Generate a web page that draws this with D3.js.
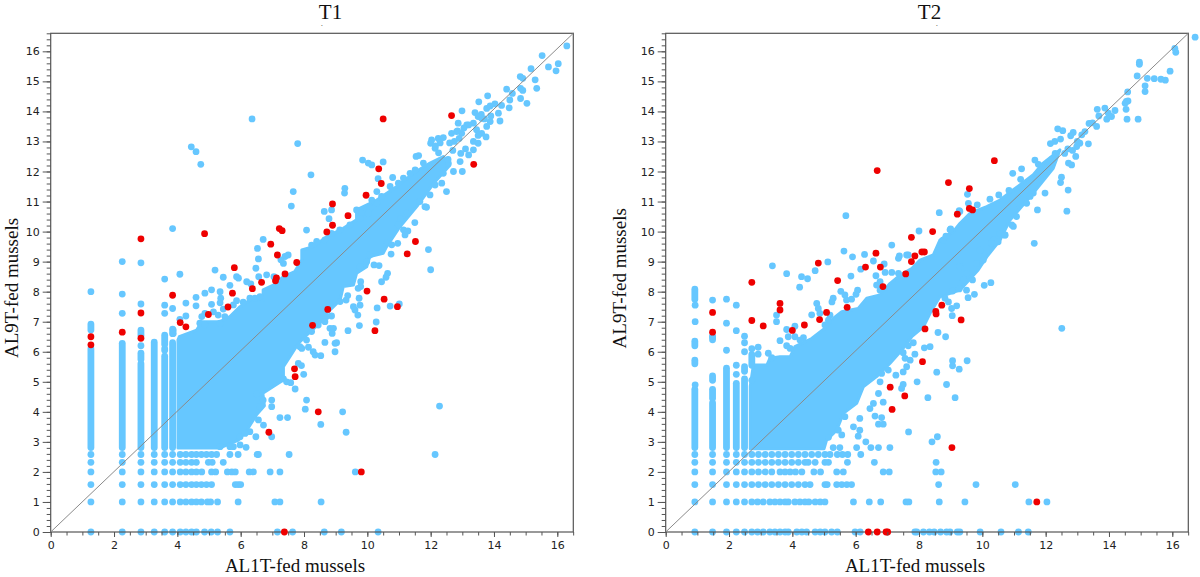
<!DOCTYPE html>
<html><head><meta charset="utf-8">
<script src="https://cdn.jsdelivr.net/npm/d3@7/dist/d3.min.js"></script>
<style>html,body{margin:0;padding:0;background:#fff}svg{display:block}</style>
</head><body><svg id="c" width="1200" height="577"></svg>
<script>
// ---- shared labels and ticks
const panelTitles = ["T1", "T2"];
const xAxisLabel = "AL1T-fed mussels";
const yAxisLabel = "AL9T-fed mussels";
const xTickLabels = [0, 2, 4, 6, 8, 10, 12, 14, 16];
const yTickLabels = [0, 1, 2, 3, 4, 5, 6, 7, 8, 9, 10, 11, 12, 13, 14, 15, 16];

// ---- T1: dense cloud outline [x, y]
const t1Cloud = [[4.02,2.8],[5.35,2.8],[5.93,3.06],[6.2,3.4],[6.5,3.9],[6.75,4.2],[6.7,4.62],[7.03,4.84],[7.35,5.06],[7.35,5.5],[7.56,5.84],[7.82,6.28],[8.14,6.61],[8.5,6.95],[8.72,7.28],[9.14,7.72],[9.24,8.17],[9.56,8.22],[9.66,8.61],[9.98,8.83],[10.08,9.17],[10.5,9.28],[10.61,9.5],[11.03,10.16],[11.56,10.83],[12.09,11.6],[12.6,12.2],[12.4,12.5],[11.98,12.28],[11.45,11.94],[10.93,11.5],[10.3,11.05],[9.66,10.72],[9.66,10.39],[9.24,10.11],[8.72,9.83],[8.29,9.5],[7.93,9.39],[7.93,9.06],[7.71,8.67],[7.35,8.5],[7.03,8.22],[6.71,8.06],[6.71,7.72],[6.29,7.72],[5.98,7.5],[5.66,7.17],[5.35,7.0],[4.77,7.0],[4.61,6.72],[4.06,6.5],[4.02,6.4]];
// ---- T1: solid runs of stacked points in the low count columns [x, yFrom, yTo]
const t1Columns = [[1.27,2.81,6.1],[1.27,6.72,6.92],[2.26,2.81,6.28],[2.85,2.81,5.6],[2.85,5.75,5.95],[2.85,6.55,6.72],[3.27,2.81,6.32],[3.6,2.81,5.85],[3.6,6.05,6.1],[3.6,6.25,6.55],[3.85,2.81,6.3],[3.85,6.6,6.75]];
// ---- T1: discrete count rows
const t1RowValues = [2.58, 2.32, 2, 1.58, 1, 0];
const t1RowX = [
 [1.27,2.26,2.85,3.27,3.6,3.85,4.09,4.27,4.45,4.6,4.76,4.92,5.08,5.24,5.66,5.92,6.52,7.53],
 [1.27,2.26,2.85,3.27,3.6,3.85,4.09,4.27,4.45,4.6,4.98,5.1,5.45],
 [1.27,2.26,2.85,3.27,3.6,3.85,4.09,4.27,4.45,4.6,4.77,5.08,5.21,5.58,5.72,5.83,6.27,6.4,6.93,7.24],
 [1.27,2.26,2.85,3.27,3.6,3.85,4.09,4.27,4.45,4.6,4.76,4.92,5.08,5.83,5.92,6.0],
 [1.27,2.26,2.85,3.27,3.6,3.85,4.09,4.27,4.45,4.6,4.76,4.95,5.05,5.27,5.92,7.08,7.24,8.54],
 [1.27,2.26,2.85,3.27,3.6,3.85,4.09,4.27,4.45,4.6,4.86,5.07,5.27,5.66,7.16,7.64,8.64,9.18,10.34]
];
// ---- T1: scattered points
const t1Blue = [[1.27,8],[2.26,7.92],[2.26,7.28],[2.85,7.59],[2.85,6.2],[3.6,7.55],[3.6,7.28],[3.85,7.44],[4.27,7.62],[4.27,7.19],[4.08,7.08],[4.59,7.81],[4.59,7.53],[4.87,7.95],[5.08,7.58],[4.77,7.17],[4.87,7.28],[4.71,6.95],[4.87,6.89],[5.37,7.78],[5.35,7.63],[5.45,7.42],[5.14,7.33],[5.29,7.22],[5.5,7.17],[5.35,6.95],[5.08,8.06],[5.35,8],[5.77,7.56],[5.87,7.7],[6.08,7.65],[6.29,7.78],[6.45,7.78],[6.61,7.83],[3.87,6.72],[3.87,6.61],
[6.36,13.75],[4.44,12.82],[4.59,12.66],[4.74,12.24],[7.8,12.93],[8.22,11.89],[7.66,11.33],[7.6,10.85],[8.64,10.67],[8.87,10.72],[8.79,10.43],[8.08,10.05],[3.85,10.1],[2.26,9],[2.85,8.96],[3.6,8.42],[4.08,8.58],[5.19,8.72],[5.45,8.48],[5.66,8.21],[5.87,8.5],[5.93,8.45],[6.19,8.33],[6.32,8.26],[6.48,8.78],[6.56,9.09],[6.53,9.44],[6.71,9.74],[6.57,8.5],[6.82,8.56],[7.05,8.5],[7.35,8.94],[7.4,9.17],[7.5,9.22],[7.27,9.06],[8.24,9.55],[8.4,9.67],[8.66,9.72],[8.87,9.94],[9.13,10.06],[9.45,10.22],[9.29,11.44],[9.28,11.28],[9.85,12.38],[10.03,12.28],[10.14,12.22],[10.5,12.32],[10.34,11.76],[9.66,10.72],[9.82,10.61],[10.08,10.78],[10.03,10.61],[9.77,10.44],[10.3,10.94],
[10.14,11.05],[10.3,11.33],[10.45,11.17],[10.72,11.5],[10.8,11.8],[10.98,11.61],[11.14,11.78],[11.35,11.94],[11.54,12.5],[11.62,12.53],[11.51,12.05],[11.77,12.28],[12,12.94],[12.03,13.05],[12.24,13.1],[12.4,13.13],[12.14,12.77],[12.66,13.27],[12.82,13.33],[12.98,13.27],[12.87,13.61],[13.14,13.55],[13.35,13.61],[13.4,13.96],[13.5,13.83],[13.61,13.77],[13.77,14.1],[13.88,14.18],[14.03,14.25],[13.88,13.66],[13.77,13.5],[13.45,13.39],[13.61,13.27],[12.93,12.33],[12.72,12],[13.5,12.94],[13.35,12.72],[12.56,12.27],[12.4,11.94],[12.35,11.61],[12.14,11.55],[11.98,11.22],[11.66,11],[11.82,10.83],[11.87,10.81],[12.5,11.33],[13,12],[11.26,10.61],[11.05,10.42],[11.5,10.3],[10.98,10.22],[11.14,10.06],[11.28,10.02],[11.19,9.89],[10.63,9.64],[10.77,9.56],[10.96,9.61],[11.93,9.4],[10.75,9.25],[10.21,8.89],[10.37,8.87],[12,8.73],[10.64,8.61],[10.59,8.48],[10.45,8.33],
[16.3,16.18],[15.52,15.86],[15.17,15.42],[14.83,15.16],[14.91,15.1],[15.3,15.05],[16.03,15.59],[15.72,15.48],[15.96,15.35],[15.35,14.77],[14.4,14.74],[14.91,14.7],[14.84,14.77],[14.58,14.6],[14.5,14.38],[14.84,14.43],[15.04,14.27],[14.48,14.12],[13.8,14.52],[13.52,14.32],[12.99,14.02],[14.19,13.68],[14.14,13.94],[14.24,14.2],[13.6,13.9],[13.7,13.75],[13.9,13.85],[13.2,13.55],[13.05,13.45],[12.85,13.35],[12.9,13.1],[12.75,13],[13.5,13.2],[13.75,13.15],[13.35,13],[13.1,12.75],[12.95,12.6],[13.2,12.55],[12.7,12.7],[12.15,12.85],[12.3,12.95],[12.6,12.95],[12.25,12.62],[12.55,12.4],
[9.77,8.83],[9.79,8.33],[9.79,8.17],[9.71,8.11],[9.74,7.78],[9.38,7.87],[9.33,7.72],[9.14,7.67],[9.77,7.55],[9.56,7.5],[9.61,7.39],[9.7,7.22],[8.87,7.19],[8.71,7.17],[8.66,7],[8.45,6.89],[8.24,6.67],[8.08,6.39],[7.93,6.11],[7.87,6.17],[8.14,6.15],[8.29,6],[8.35,5.89],[8.53,5.87],[8.66,6.31],[8.98,6.28],[9.03,6.3],[8.98,6],[8.82,6.78],[8.93,6.78],[8.89,6.61],[9.39,6.7],[9.75,6.87],[10.28,6.99],[10.31,7.46],[10.72,7.52],[11.01,7.59],[10.08,9.22],[9.98,9],
[7.99,5.25],[7.92,5.54],[7.82,5.61],[7.58,4.97],[7.72,4.76],[7.35,5.1],[7.45,5.0],[6.98,4.39],[6.98,4.17],[8.08,4.39],[8.04,4.09],[9.22,4],[8.53,3.58],[9.33,3.32],[7.24,3.81],[7.48,3.81],[6.56,3.73],[6.72,3.56],[6.98,3.17],[6.29,3.34],[6.48,3.17],[5.98,3.17],[6.14,3.28],[6.5,4.6],[6.71,4.39],[6.61,4.17],[6.17,2.82],[5.98,2.9],[5.77,2.84],[5.66,2.84],[5.35,2.84],[6.56,2.58],[12.28,4.19],[12.14,2.58],[9.62,2]];
const t1Red = [[2.85,9.76],[4.86,9.93],[7.22,10.1],[7.31,10.03],[6.95,9.58],[7.16,9.22],[7.77,8.97],[8.72,9.99],[5.8,8.8],[7.4,8.59],[6.66,8.31],[7.13,8.46],[7.1,8.36],[6.37,8.1],[1.27,6.5],[1.27,6.23],[2.26,6.65],[2.85,7.29],[2.85,6.45],[3.85,7.88],[5.74,7.95],[5.6,7.49],[4.98,7.24],[4.09,6.97],[4.27,6.83],[8.27,6.88],[8.75,7.41],[7.7,5.43],[7.72,5.17],[8.45,4],[6.89,3.32],[7.38,0],[10.5,13.75],[12.66,13.86],[13.36,12.24],[10.36,12.09],[10.44,11.6],[9.96,11.21],[8.9,10.92],[9.39,10.53],[8.9,10.21],[11.52,9.67],[11.26,9.26],[9.99,8.02],[10.53,7.75],[10.95,7.5],[10.24,6.7],[9.81,2]];

// ---- T2: dense cloud outline [x, y]
const t2Cloud = [[2.67,2.77],[5.0,2.77],[5.08,3.06],[5.4,3.39],[5.61,3.95],[6.03,4.28],[6.24,4.83],[6.66,5.17],[7.08,5.61],[7.45,6.05],[7.77,6.5],[8.14,6.83],[8.35,7.28],[8.66,7.83],[9.29,8.05],[9.87,8.72],[10.14,9.16],[10.56,9.72],[10.87,10.38],[11.61,11.28],[12.24,12.11],[12.45,12.72],[11.92,12.28],[11.61,11.89],[10.98,11.39],[10.56,11.05],[10.14,10.83],[9.61,10.61],[9.29,10.27],[9.08,10],[8.66,9.72],[8.45,9.22],[8.03,9.05],[7.77,8.77],[7.4,8.55],[7.08,8.27],[6.77,7.89],[6.35,7.78],[6.08,7.44],[5.56,7.33],[5.29,7.11],[5.03,6.78],[4.61,6.44],[4.08,6.17],[3.93,5.83],[3.61,5.83],[3.29,5.78],[3.2,5.56],[2.77,5.56],[2.67,4.85]];
// ---- T2: solid runs of stacked points in the low count columns [x, yFrom, yTo]
const t2Columns = [[0.92,2.81,4.75],[0.92,5.6,5.72],[0.92,6.2,6.35],[0.92,7.75,8.08],[1.48,2.81,4.3],[1.48,4.45,4.75],[1.48,5.05,5.2],[1.48,6.4,6.5],[1.92,2.81,5.45],[2.23,2.81,4.95],[2.49,2.81,5.1],[2.49,5.35,5.5],[2.72,5.55,5.9]];
// ---- T2: discrete count rows
const t2RowValues = [2.58, 2.32, 2, 1.58, 1, 0];
const t2RowX = [
 [0.92,1.48,1.92,2.23,2.49,2.72,2.93,3.14,3.35,3.56,3.77,3.98,4.19,4.4,4.61,4.82,5.03,5.19,5.42,5.58,5.75,6.16],
 [0.92,1.48,1.92,2.23,2.49,2.72,2.93,3.14,3.35,3.56,3.77,3.98,4.19,4.4,4.5,4.72,5.03,5.14,5.74,6.59],
 [0.92,1.48,1.92,2.23,2.49,2.72,2.93,3.14,3.35,3.61,3.77,3.93,4.1,4.3,4.68,4.89,5.4,5.61,6.87,7.06],
 [0.92,1.48,1.92,2.23,2.49,2.72,2.93,3.14,3.35,3.56,3.77,3.98,4.19,4.4,4.56,5.03,5.1,5.4,5.56,5.72,5.87],
 [0.92,1.48,1.92,2.23,2.49,2.72,2.9,3.08,3.29,3.45,3.61,3.77,3.87,4.08,4.24,4.4,4.52,4.72,4.88,5.03,5.93,6.43,6.79,7.59,7.68,8.64,9.45,11.47,12.04],
 [0.92,1.48,1.92,2.23,2.49,2.72,2.9,3.08,3.29,3.45,3.61,3.77,3.87,4.14,4.3,4.45,4.72,4.88,5.03,5.24,5.42,5.98,6.14,7.87,7.93,8.14,8.33,8.48,8.68,8.87,8.98,9.21,9.29,9.93,10.59,11.14,11.45]
];
// ---- T2: scattered points
const t2Blue = [[0.93,4.9],[0.93,7],[0.93,7.55],[1.48,7.72],[1.48,6.5],[1.92,6.05],[1.92,6.95],[1.92,7.75],[2.23,5.25],[2.23,5.55],[2.23,6.7],[2.23,7.55],[2.49,6],[2.49,6.3],[2.49,6.52],[2.72,5.05],[2.72,6.1],[2.92,6.15],[2.92,5.92],[3.24,5.95],[3.35,5.8],
[5.69,10.53],[8,10.02],[8.64,10.63],[9,10.09],[9.27,10.7],[9.84,10.89],[9.53,11.24],[7.14,9.55],[7.66,9.22],[7.35,9.11],[7.38,9.19],[7.61,9.22],[5.63,9.35],[5.9,9.16],[6.28,9.24],[6.56,9.02],[5.12,8.99],[6.16,8.75],[6.9,8.92],[4.72,8.7],[3.82,8.6],[3.37,8.86],[4.29,8.5],[4.48,8.43],[4.23,8.15],[5.85,8.52],[6.64,8.53],[6.93,8.64],[7.14,8.64],[7.35,8.61],[6.77,8.33],[5.53,8.01],[6.06,8.05],[6.01,7.91],[5.66,7.89],[5.87,7.75],[5.71,7.72],[5.29,7.78],[5.25,7.66],[4.77,7.61],[4.82,7.44],[4.87,7.28],[4.61,7.23],[5.19,7.22],[5.14,7.05],[5.03,6.89],[3.5,7.22],[3.5,7],[3.82,6.74],[4.08,6.85],[3.87,6.5],[3.61,6.37],[3.82,6.2],[3.93,6.11],[4.35,6.47],[4.24,6.39],[4.08,6.5],[6.66,8.22],[6.77,8.05],[8.77,9.72],[8.98,10.06],[8.85,9.85],[9.29,10.67],[9.56,10.94],
[16.72,16.47],[16.08,16.1],[16.11,15.97],[14.96,15.64],[14.96,15.57],[15.93,15.34],[14.89,15.18],[15.21,15.1],[15.43,15.09],[15.64,15.07],[15.78,15.04],[15.14,14.85],[15.14,14.66],[14.59,14.65],[14.55,14.33],[14.6,14.35],[14.51,14.27],[14.54,14.07],[13.63,14.07],[13.87,14.11],[14.19,14.03],[13.68,13.85],[13.98,13.94],[14.08,13.83],[13.93,13.74],[14.57,13.74],[14.92,13.74],[13.37,13.6],[13.48,13.62],[13.61,13.5],[12.38,13.42],[12.54,13.36],[12.87,13.3],[12.79,13.19],[13.14,13.22],[13.24,13.33],[12.47,13.08],[12.29,13],[12.15,12.93],[13.08,12.94],[13.35,12.92],[12.98,12.83],[11.66,12.38],[11.77,12.24],[11.24,12.09],[10.96,11.94],[12.95,12.5],[12.72,12.28],[12.82,12.22],[12.5,11.81],[12.47,11.63],[12.71,11.38],[12.67,10.68],[11.98,11.28],[11.74,10.72],[11.64,9.61],[11.21,11.74],[10.24,11.08],[10.52,11.22],[10.84,11.37],[12.7,12.75],[12.6,12.6],[12.85,12.7],[12.3,12.6],[12.2,12.4],[13,13],
[10.98,10.17],[10.56,9.94],[10.35,9.72],[10.72,9.89],[11.61,11.28],[11.51,11.17],[11.4,10.94],[10.98,10.83],[11.08,10.5],[10.93,10.22],[9.51,8.61],[9.29,8.83],[10.71,9.88],[10.5,9.66],[10.29,9.61],[10.03,9.05],[9.82,8.94],[9.93,9.38],[10.27,8.3],[10.06,8.21],[9.69,8.39],[9.4,8.39],[9.5,8.05],[9.75,7.91],[9.55,7.8],[9.27,8.09],[9.06,8.02],[8.82,7.78],[8.93,7.66],[9.03,7.44],[9.19,7.53],[9.05,7.2],[8.84,6.5],[8.6,6.64],[8.35,6.17],[8.17,6.13],[7.82,6.3],[7.66,6.2],[7.87,5.92],[7.5,5.97],[7.72,5.72],[7.56,5.78],[7.61,5.5],[7.5,5.33],[7.27,5.22],[7.03,5.39],[6.82,5.28],[6.77,5],[7.94,5],[7.5,4.91],[7.45,4.78],[8.56,5.32],[9.06,5.7],[9.06,5.53],[9.27,5.42],[9.52,5.7],[8.87,4.91],[9.14,4.47],[8.28,4.47],[7.67,3.33],[8.58,3.17],[8.41,3],[6.87,4.32],[6.61,3.86],[6.82,3.81],[6.72,3.59],[6.87,3.59],[6.45,4.11],[6.56,4.28],[6.72,4.61],[6.13,3.78],[6.13,3.39],[5.93,3.5],[5.66,3.84],[5.45,3.39],[5.56,3.23],[5.14,3.15],[6.08,3.19],
[8.54,2.32],[8.53,2],[8.7,2],[8.62,1.58],[9.8,1.58],[11.04,1.58],[12.51,6.78],[5.29,2.81],[5.5,2.81],[6.03,2.81],[6.32,3],[6.48,2.81],[6.72,2.81],[7.08,2.81]];
const t2Red = [[6.68,12.03],[7.76,9.81],[6.64,9.28],[4.82,8.95],[7.87,9.19],[8.09,9.32],[8.17,9.32],[7.76,9],[6.31,8.82],[6.78,8.82],[7.58,8.59],[5.43,8.37],[2.72,8.31],[6.86,8.17],[1.48,7.31],[1.48,6.65],[2.72,7.04],[3.08,6.86],[3.61,7.61],[3.61,7.39],[4,6.71],[4.38,6.89],[4.86,7.07],[5.08,7.31],[5.73,7.48],[8.19,6.76],[8.11,5.67],[7.09,4.82],[7.55,4.53],[7.15,4.08],[6.4,0],[6.68,0],[6.96,0],[7.01,0],[10.38,12.36],[8.93,11.63],[9.59,11.43],[9.59,10.77],[9.69,10.72],[9.21,10.58],[8.43,10],[8.72,7.55],[8.53,7.34],[8.54,7.26],[9.33,7.06],[9.04,2.81],[11.72,1]];

// ---- drawing
const svg = d3.select("#c");
const BLUE = "#66c7ff", RED = "#ee0000", AXIS = "#555", R = 3.4;
const W = 522.6, H = 498.7;
const x = d3.scaleLinear().domain([0, 16.505]).range([0, W]);
const y = d3.scaleLinear().domain([0, 16.6]).range([H, 0]);

function panel(left, layout, title, cloud, cols, rowY, rowX, blue, red) {
  const g = svg.append("g").attr("transform", `translate(${left},33.3)`);
  g.append("path").attr("d", d3.line().x(d => x(d[0])).y(d => y(d[1])).curve(d3.curveLinearClosed)(cloud))
    .attr("fill", BLUE).attr("stroke", BLUE).attr("stroke-width", 3).attr("stroke-linejoin", "round");
  g.selectAll(".col").data(cols).join("line")
    .attr("x1", d => x(d[0])).attr("x2", d => x(d[0]))
    .attr("y1", d => y(d[1])).attr("y2", d => y(d[2]))
    .attr("stroke", BLUE).attr("stroke-width", 2 * R).attr("stroke-linecap", "round");
  const rows = rowY.flatMap((v, i) => rowX[i].map(px => [px, v]));
  g.selectAll(".b").data(rows.concat(blue)).join("circle")
    .attr("cx", d => x(d[0])).attr("cy", d => y(d[1])).attr("r", R).attr("fill", BLUE);
  g.append("rect").attr("width", W).attr("height", H).attr("fill", "none").attr("stroke", AXIS).attr("stroke-width", 1.2);
  g.append("line").attr("x1", x(0)).attr("y1", y(0)).attr("x2", x(16.505)).attr("y2", y(16.6))
    .attr("stroke", "#8a8a8a").attr("stroke-width", 1);
  g.selectAll(".r").data(red).join("circle")
    .attr("cx", d => x(d[0])).attr("cy", d => y(d[1])).attr("r", R).attr("fill", RED);

  g.append("g").attr("transform", `translate(0,${H})`)
    .call(d3.axisBottom(x).tickValues(d3.range(0, 16.51, 0.5)).tickSize(3.5).tickFormat(""));
  g.append("g").attr("transform", `translate(0,${H})`)
    .call(d3.axisBottom(x).tickValues(xTickLabels).tickSize(5).tickPadding(4).tickFormat(d3.format("d")));
  g.append("g").call(d3.axisLeft(y).tickValues(d3.range(0, 16.61, 0.2)).tickSize(4).tickFormat(""));
  g.append("g").call(d3.axisLeft(y).tickValues(yTickLabels).tickSize(8).tickPadding(3).tickFormat(d3.format("d")));
  g.selectAll(".domain").remove();
  g.selectAll(".tick line").attr("stroke", AXIS).attr("stroke-width", 1);
  g.selectAll(".tick text").attr("fill", "#222").style("font", "11px 'DejaVu Sans'").style("font-weight", "500");

  const serif = "'Liberation Serif'";
  g.append("text").attr("x", layout.titleX).attr("y", -14.8).attr("text-anchor", "middle")
    .style("font-family", serif).style("font-size", "21px").attr("fill", "#111").text(title);
  g.append("text").attr("x", 271.3).attr("y", -7).attr("text-anchor", "middle")
    .style("font-family", serif).style("font-size", "9px").attr("fill", "#444").text(".");
  g.append("text").attr("x", layout.xLabelX).attr("y", 539).attr("text-anchor", "middle")
    .style("font-family", serif).style("font-size", "19px").attr("fill", "#111").text(xAxisLabel);
  g.append("text").attr("transform", `translate(${layout.yLabelX},${layout.yLabelY}) rotate(-90)`).attr("text-anchor", "middle")
    .style("font-family", serif).style("font-size", "19px").attr("fill", "#111").text(yAxisLabel);
}
panel(50.7, {titleX: 279.8, xLabelX: 244.3, yLabelX: -33, yLabelY: 254.7}, panelTitles[0], t1Cloud, t1Columns, t1RowValues, t1RowX, t1Blue, t1Red);
panel(665.7, {titleX: 263.8, xLabelX: 249.3, yLabelX: -40, yLabelY: 245}, panelTitles[1], t2Cloud, t2Columns, t2RowValues, t2RowX, t2Blue, t2Red);
</script></body></html>
